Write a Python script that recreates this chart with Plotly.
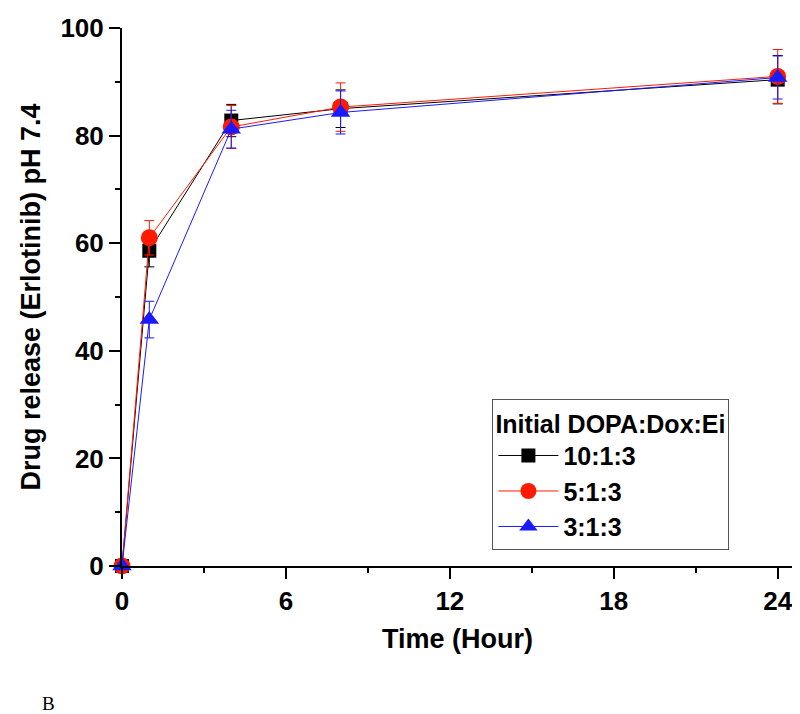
import plotly.graph_objects as go

# release time points (hours)
hours = [0, 1, 4, 8, 24]

# cumulative release (%) for each initial DOPA:Dox:Ei ratio
labels = ["10:1:3", "5:1:3", "3:1:3"]
release_10 = [0, 58.6, 82.8, 85.0, 90.4]
release_5 = [0, 61.0, 81.6, 85.3, 91.0]
release_3 = [0, 45.8, 81.2, 84.3, 90.8]

# standard deviations
err_10 = [0, 3.0, 3.0, 3.5, 4.5]
err_5 = [0, 3.2, 4.0, 4.5, 5.0]
err_3 = [0, 3.4, 3.5, 4.0, 4.0]

series = [
    (labels[0], release_10, err_10, "black", "square", 14),
    (labels[1], release_5, err_5, "#ff1a00", "circle", 17),
    (labels[2], release_3, err_3, "#1a1aff", "triangle-up", 17),
]

fig = go.Figure()
for name, vals, err, color, symbol, size in series:
    fig.add_trace(go.Scatter(
        x=hours, y=vals, name=name,
        mode="lines+markers",
        line=dict(color=color, width=1),
        marker=dict(symbol=symbol, size=size, color=color),
        error_y=dict(type="data", array=err, color=color,
                     thickness=1, width=5, visible=True),
        cliponaxis=False,
    ))

tick_font = dict(family="Liberation Sans, Arial, sans-serif", size=26,
                 color="black", weight="bold")
title_font = dict(family="Liberation Sans, Arial, sans-serif", size=27,
                  color="black", weight="bold")
legend_font = dict(family="Liberation Sans, Arial, sans-serif", size=25,
                   color="black", weight="bold")

fig.update_xaxes(
    range=[0, 24.56], tickvals=[0, 6, 12, 18, 24],
    ticks="outside", ticklen=11, tickwidth=2, tickcolor="black",
    minor=dict(tickvals=[3, 9, 15, 21], ticks="outside", ticklen=5,
               tickwidth=2, tickcolor="black"),
    showline=True, linewidth=2, linecolor="black", showgrid=False,
    zeroline=False, tickfont=tick_font, automargin=False,
    title=dict(text="Time (Hour)", font=title_font, standoff=14),
)
fig.update_yaxes(
    range=[0, 100], tickvals=[0, 20, 40, 60, 80, 100],
    ticks="outside", ticklen=11, tickwidth=2, tickcolor="black",
    minor=dict(tickvals=[10, 30, 50, 70, 90], ticks="outside", ticklen=5,
               tickwidth=2, tickcolor="black"),
    showline=True, linewidth=2, linecolor="black", showgrid=False,
    zeroline=False, tickfont=tick_font, automargin=False,
    title=dict(text="Drug release (Erlotinib) pH 7.4", font=title_font,
               standoff=12),
)

fig.update_layout(
    width=800, height=714,
    margin=dict(l=114, r=15, t=20, b=156),
    plot_bgcolor="white", paper_bgcolor="white",
    showlegend=True,
    legend=dict(
        x=0.552, y=0.31, xanchor="left", yanchor="top",
        bordercolor="#555555", borderwidth=1, bgcolor="white",
        font=legend_font,
        title=dict(text="Initial DOPA:Dox:Ei", font=legend_font),
        itemwidth=60, tracegroupgap=0,
    ),
    annotations=[dict(
        text="B", xref="paper", yref="paper",
        x=-0.11, y=-0.255, xanchor="center", yanchor="middle",
        showarrow=False,
        font=dict(family="Liberation Serif, Times New Roman, serif",
                  size=19, color="black"),
    )],
)

fig.write_html("out.html")
